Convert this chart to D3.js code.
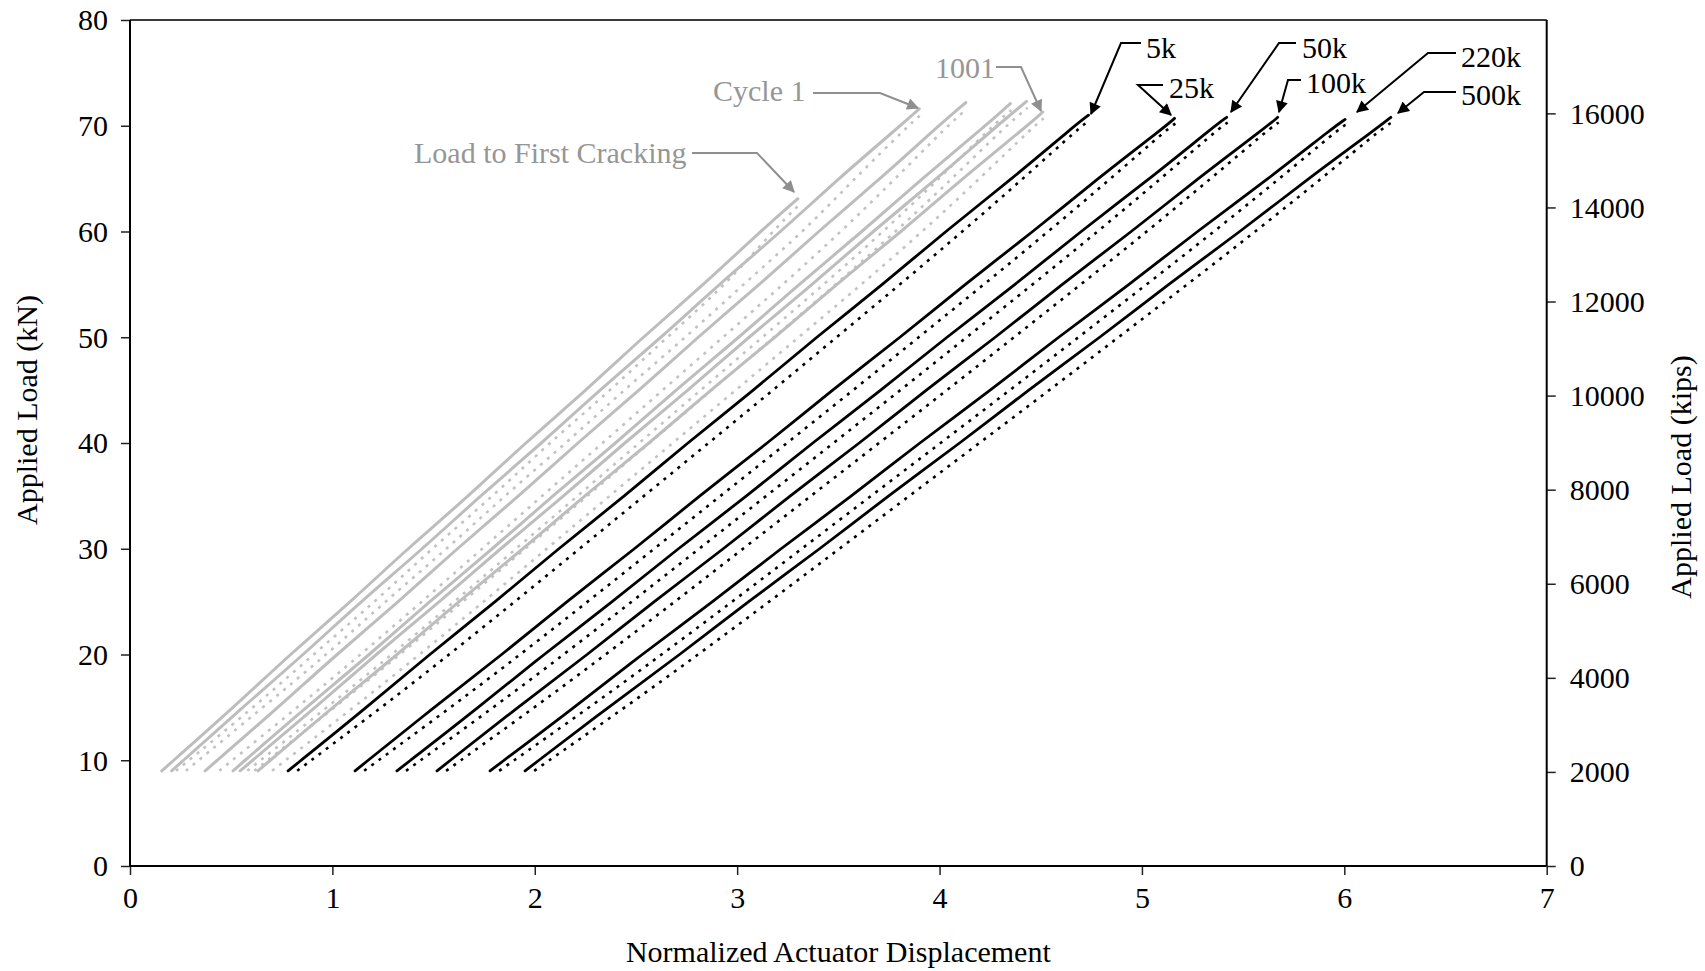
<!DOCTYPE html>
<html>
<head>
<meta charset="utf-8">
<script src="https://cdn.jsdelivr.net/npm/d3@7/dist/d3.min.js"></script>
<style>
  html, body { margin: 0; padding: 0; background: #fff; }
  svg { display: block; }
  text { font-family: "Liberation Serif", "Times New Roman", serif; }
</style>
</head>
<body>
<svg id="chart" width="1705" height="971"></svg>
<script>
// ---------------- DATA ----------------
const xTicks = [0, 1, 2, 3, 4, 5, 6, 7];
const yTicksKN = [0, 10, 20, 30, 40, 50, 60, 70, 80];
const yTicksRight = [0, 2000, 4000, 6000, 8000, 10000, 12000, 14000, 16000];
const kNtoRight = 224.809;

// load levels (kN) at which displacements were read
const loadLevels = [9, 15, 20, 25, 30, 35, 40, 45, 50, 55, 60, 65, 70];

// gray group (early cycles): solid = loading, dotted = companion trace
const lfcSolid   = [0.157, 0.512, 0.790, 1.092, 1.370, 1.675, 1.952, 2.255, 2.533, 2.836, 3.114];
const lfcTop     = [3.300, 63.1];
const lfcDotted  = [0.227, 0.612, 0.905, 1.212, 1.490, 1.795, 2.072, 2.375, 2.653, 2.946, 3.174];
const lfcDotTop  = [3.305, 62.5];

const c1Solid    = [0.206, 0.556, 0.858, 1.140, 1.447, 1.730, 2.036, 2.319, 2.627, 2.910, 3.218, 3.500, 3.806];
const c1Top      = [3.900, 71.6];
const c1Dotted   = [0.276, 0.656, 0.973, 1.260, 1.567, 1.850, 2.156, 2.439, 2.747, 3.030, 3.328, 3.580, 3.846];
const c1DotTop   = [3.905, 71.0];

const g3Solid    = [0.371, 0.733, 1.020, 1.329, 1.614, 1.923, 2.210, 2.518, 2.804, 3.113, 3.400, 3.708, 3.995];
const g3Top      = [4.130, 72.2];
const g3Dotted   = [0.441, 0.828, 1.140, 1.443, 1.740, 2.037, 2.335, 2.632, 2.930, 3.227, 3.515, 3.782, 4.040];
const g3DotTop   = [4.135, 71.6];

const g4Solid    = [0.509, 0.870, 1.185, 1.478, 1.793, 2.087, 2.402, 2.695, 3.011, 3.304, 3.619, 3.913, 4.227];
const g4Top      = [4.350, 72.1];
const g4Dotted   = [0.579, 0.974, 1.294, 1.603, 1.907, 2.212, 2.516, 2.820, 3.125, 3.429, 3.723, 3.998, 4.262];
const g4DotTop   = [4.355, 71.5];

const g5Solid    = [0.544, 0.917, 1.214, 1.532, 1.828, 2.146, 2.441, 2.760, 3.055, 3.374, 3.669, 3.988, 4.284];
const g5Top      = [4.430, 72.3];
const g5Dotted   = [0.614, 1.012, 1.334, 1.646, 1.953, 2.260, 2.567, 2.874, 3.181, 3.488, 3.785, 4.062, 4.329];
const g5DotTop   = [4.435, 71.7];

const c1001Solid  = [0.632, 1.001, 1.323, 1.622, 1.945, 2.244, 2.568, 2.867, 3.190, 3.489, 3.813, 4.112, 4.434];
const c1001Top    = [4.510, 71.3];
const c1001Dotted = [0.702, 1.106, 1.432, 1.748, 2.059, 2.370, 2.682, 2.993, 3.304, 3.615, 3.917, 4.198, 4.469];
const c1001DotTop = [4.515, 70.7];

// black group (later cycles)
const k5Solid    = [0.781, 1.170, 1.478, 1.808, 2.115, 2.446, 2.753, 3.083, 3.390, 3.721, 4.028, 4.359, 4.667];
const k5Top      = [4.736, 71.0];
const k5Dotted   = [0.826, 1.244, 1.578, 1.902, 2.221, 2.540, 2.859, 3.177, 3.491, 3.805, 4.114, 4.413, 4.702];
const k5DotTop   = [4.741, 70.5];

const k25Solid   = [1.112, 1.501, 1.840, 2.156, 2.496, 2.812, 3.152, 3.468, 3.808, 4.124, 4.464, 4.780, 5.120];
const k25Top     = [5.161, 70.7];
const k25Dotted  = [1.157, 1.586, 1.929, 2.262, 2.590, 2.918, 3.246, 3.574, 3.897, 4.220, 4.538, 4.846, 5.145];
const k25DotTop  = [5.166, 70.2];

const k50Solid   = [1.319, 1.723, 2.043, 2.386, 2.706, 3.050, 3.370, 3.713, 4.033, 4.377, 4.696, 5.040, 5.361];
const k50Top     = [5.419, 70.8];
const k50Dotted  = [1.364, 1.797, 2.144, 2.480, 2.812, 3.144, 3.476, 3.807, 4.134, 4.461, 4.782, 5.094, 5.396];
const k50DotTop  = [5.424, 70.3];

const k100Solid  = [1.517, 1.915, 2.262, 2.587, 2.935, 3.259, 3.607, 3.931, 4.279, 4.603, 4.951, 5.275, 5.622];
const k100Top    = [5.671, 70.8];
const k100Dotted = [1.562, 2.000, 2.351, 2.693, 3.029, 3.365, 3.701, 4.037, 4.368, 4.699, 5.025, 5.341, 5.647];
const k100DotTop = [5.676, 70.3];

const k220Solid  = [1.779, 2.197, 2.527, 2.882, 3.213, 3.568, 3.899, 4.254, 4.585, 4.940, 5.271, 5.626, 5.957];
const k220Top    = [6.004, 70.6];
const k220Dotted = [1.824, 2.271, 2.628, 2.976, 3.319, 3.662, 4.005, 4.348, 4.686, 5.024, 5.357, 5.680, 5.993];
const k220DotTop = [6.009, 70.1];

const k500Solid  = [1.952, 2.362, 2.719, 3.053, 3.411, 3.745, 4.103, 4.437, 4.795, 5.129, 5.487, 5.821, 6.178];
const k500Top    = [6.230, 70.8];
const k500Dotted = [1.997, 2.447, 2.808, 3.159, 3.505, 3.851, 4.197, 4.543, 4.884, 5.225, 5.561, 5.887, 6.203];
const k500DotTop = [6.235, 70.3];

// annotation labels
const grayLabels  = ["Load to First Cracking", "Cycle 1", "1001"];
const blackLabels = ["5k", "25k", "50k", "100k", "220k", "500k"];

// ---------------- LAYOUT ----------------
const svg = d3.select("#chart");
const L = 130, R = 1546.7, T = 20, B = 866;
const FONT = 30;

const x = d3.scaleLinear().domain([0, 7]).range([L, R]);
const y = d3.scaleLinear().domain([0, 80]).range([B, T]);
const y2 = d3.scaleLinear().domain([0, 80 * kNtoRight]).range([B, T]);

const GRAY_LINE = "#bdbdbd";
const GRAY_DOT = "#c2c2c2";
const GRAY_TEXT = "#969696";

function pts(xs, top) {
  const p = xs.map((v, i) => [v, loadLevels[i]]);
  p.push(top);
  return p;
}

const curves = [
  { name: "Load to First Cracking", group: "gray", solid: pts(lfcSolid, lfcTop), dotted: pts(lfcDotted, lfcDotTop) },
  { name: "Cycle 1", group: "gray", solid: pts(c1Solid, c1Top), dotted: pts(c1Dotted, c1DotTop) },
  { name: "Cycle g3", group: "gray", solid: pts(g3Solid, g3Top), dotted: pts(g3Dotted, g3DotTop) },
  { name: "Cycle g4", group: "gray", solid: pts(g4Solid, g4Top), dotted: pts(g4Dotted, g4DotTop) },
  { name: "Cycle g5", group: "gray", solid: pts(g5Solid, g5Top), dotted: pts(g5Dotted, g5DotTop) },
  { name: "1001", group: "gray", solid: pts(c1001Solid, c1001Top), dotted: pts(c1001Dotted, c1001DotTop) },
  { name: "5k", group: "black", solid: pts(k5Solid, k5Top), dotted: pts(k5Dotted, k5DotTop) },
  { name: "25k", group: "black", solid: pts(k25Solid, k25Top), dotted: pts(k25Dotted, k25DotTop) },
  { name: "50k", group: "black", solid: pts(k50Solid, k50Top), dotted: pts(k50Dotted, k50DotTop) },
  { name: "100k", group: "black", solid: pts(k100Solid, k100Top), dotted: pts(k100Dotted, k100DotTop) },
  { name: "220k", group: "black", solid: pts(k220Solid, k220Top), dotted: pts(k220Dotted, k220DotTop) },
  { name: "500k", group: "black", solid: pts(k500Solid, k500Top), dotted: pts(k500Dotted, k500DotTop) }
];

// ---------------- AXES ----------------
const axisG = svg.append("g");

const xAxis = d3.axisBottom(x).tickValues(xTicks).tickSize(9).tickPadding(12).tickFormat(d3.format("d"));
const gx = axisG.append("g").attr("transform", `translate(0,${B})`).call(xAxis);
const yAxis = d3.axisLeft(y).tickValues(yTicksKN).tickSize(9).tickPadding(13).tickFormat(d3.format("d"));
const gy = axisG.append("g").attr("transform", `translate(${L},0)`).call(yAxis);
const yAxisR = d3.axisRight(y2).tickValues(yTicksRight).tickSize(9).tickPadding(14).tickFormat(d3.format("d"));
const gyr = axisG.append("g").attr("transform", `translate(${R},0)`).call(yAxisR);

[gx, gy, gyr].forEach(g => {
  g.select(".domain").remove();
  g.selectAll(".tick line").attr("stroke", "#222").attr("stroke-width", 1.5);
  g.selectAll(".tick text").attr("font-size", FONT).attr("fill", "#000")
    .attr("font-family", "Liberation Serif, serif");
});
gx.selectAll(".tick text").attr("dy", "0.71em");
gy.selectAll(".tick text").attr("dy", "0.33em");
gyr.selectAll(".tick text").attr("dy", "0.33em");

// frame lines
axisG.append("line").attr("x1", L).attr("x2", R).attr("y1", T).attr("y2", T)
  .attr("stroke", "#3a3a3a").attr("stroke-width", 2.2);
axisG.append("line").attr("x1", R).attr("x2", R).attr("y1", T).attr("y2", B)
  .attr("stroke", "#000").attr("stroke-width", 2);
axisG.append("line").attr("x1", L).attr("x2", L).attr("y1", T).attr("y2", B)
  .attr("stroke", "#000").attr("stroke-width", 2);
axisG.append("line").attr("x1", L).attr("x2", R).attr("y1", B).attr("y2", B)
  .attr("stroke", "#000").attr("stroke-width", 2.2);

// axis titles
svg.append("text").attr("x", (L + R) / 2).attr("y", 962).attr("text-anchor", "middle")
  .attr("font-size", FONT).text("Normalized Actuator Displacement");
svg.append("text").attr("transform", "translate(37,410) rotate(-90)").attr("text-anchor", "middle")
  .attr("font-size", FONT).text("Applied Load (kN)");
svg.append("text").attr("transform", "translate(1691,477) rotate(-90)").attr("text-anchor", "middle")
  .attr("font-size", FONT).text("Applied Load (kips)");

// ---------------- CURVES ----------------
const line = d3.line().x(d => x(d[0])).y(d => y(d[1])).curve(d3.curveBasis);
const plot = svg.append("g");

curves.forEach(c => {
  const gray = c.group === "gray";
  plot.append("path").datum(c.dotted).attr("d", line)
    .attr("fill", "none")
    .attr("stroke", gray ? GRAY_DOT : "#000")
    .attr("stroke-width", 2.6)
    .attr("stroke-dasharray", "3,6");
});
curves.forEach(c => {
  const gray = c.group === "gray";
  plot.append("path").datum(c.solid).attr("d", line)
    .attr("fill", "none")
    .attr("stroke", gray ? GRAY_LINE : "#000")
    .attr("stroke-width", gray ? 3 : 2.8)
    .attr("stroke-linejoin", "round").attr("stroke-linecap", "round");
});

// ---------------- ANNOTATIONS ----------------
const defs = svg.append("defs");
function marker(id, color) {
  defs.append("marker").attr("id", id).attr("viewBox", "0 0 10 10")
    .attr("refX", 9).attr("refY", 5).attr("markerWidth", 8).attr("markerHeight", 6)
    .attr("markerUnits", "strokeWidth").attr("orient", "auto")
    .append("path").attr("d", "M0,0 L10,5 L0,10 z").attr("fill", color);
}
marker("arrGray", "#8f8f8f");
marker("arrBlack", "#000");

// annotation geometry in pixel space (text start, baseline, leader path)
const ann = [
  { text: grayLabels[0], color: GRAY_TEXT, tx: 414, ty: 163, path: [[692, 153], [757, 153], [794, 192]], m: "arrGray" },
  { text: grayLabels[1], color: GRAY_TEXT, tx: 713, ty: 101, path: [[813, 93], [880, 93], [918, 108]], m: "arrGray" },
  { text: grayLabels[2], color: GRAY_TEXT, tx: 935, ty: 78, path: [[996, 67], [1021, 67], [1041, 111]], m: "arrGray" },
  { text: blackLabels[0], color: "#000", tx: 1146, ty: 58, path: [[1141, 43], [1121, 43], [1091, 114]], m: "arrBlack" },
  { text: blackLabels[1], color: "#000", tx: 1169, ty: 98, path: [[1163, 85], [1138, 85], [1171, 115]], m: "arrBlack" },
  { text: blackLabels[2], color: "#000", tx: 1302, ty: 58, path: [[1296, 43], [1279, 43], [1231, 112]], m: "arrBlack" },
  { text: blackLabels[3], color: "#000", tx: 1306, ty: 93, path: [[1301, 80], [1288, 80], [1279, 112]], m: "arrBlack" },
  { text: blackLabels[4], color: "#000", tx: 1461, ty: 67, path: [[1456, 53], [1428, 53], [1357, 112]], m: "arrBlack" },
  { text: blackLabels[5], color: "#000", tx: 1461, ty: 105, path: [[1456, 92], [1424, 92], [1398, 113]], m: "arrBlack" }
];

const annG = svg.append("g");
ann.forEach(a => {
  annG.append("text").attr("x", a.tx).attr("y", a.ty).attr("font-size", FONT)
    .attr("fill", a.color).text(a.text);
  annG.append("path").attr("d", d3.line()(a.path)).attr("fill", "none")
    .attr("stroke", a.color === "#000" ? "#000" : "#8f8f8f").attr("stroke-width", 2)
    .attr("marker-end", `url(#${a.m})`);
});
</script>
</body>
</html>
